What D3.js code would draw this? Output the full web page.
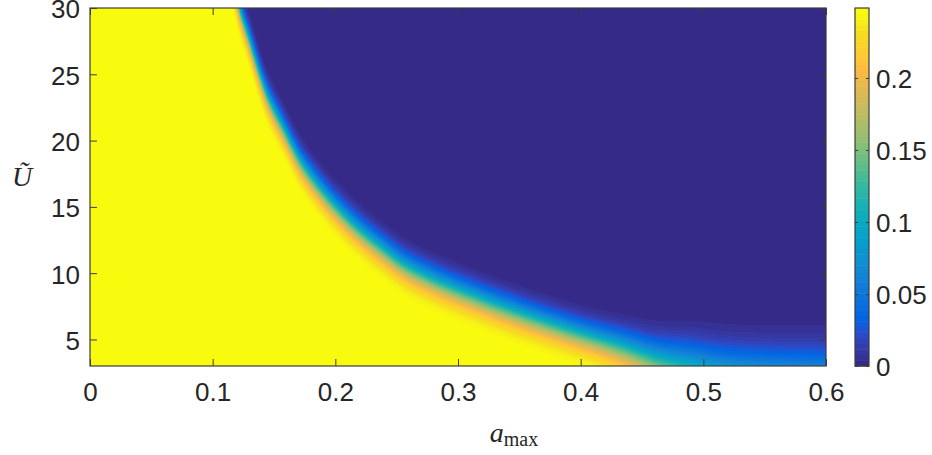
<!DOCTYPE html>
<html>
<head>
<meta charset="utf-8">
<script src="https://cdn.jsdelivr.net/npm/d3@7"></script>
<style>
  body { margin: 0; background: #fff; }
  svg { display: block; }
</style>
</head>
<body>
<div id="chart"></div>
<script>
// transition curve: a_max -> U where the value is half of the max
const boundaryA = [0.09, 0.1215, 0.1288, 0.1443, 0.1565, 0.1736, 0.2095, 0.2380, 0.2608, 0.3196, 0.3856, 0.432, 0.469, 0.53, 0.60];
const boundaryU = [45, 30.0, 27.8, 23.3, 21.0, 18.0, 14.0, 11.75, 10.25, 7.9, 5.75, 4.4, 3.2, 2.0, 1.56];
// how wide the band is (in U units) along a_max
const bandA = [0.09, 0.25, 0.40, 0.45, 0.50, 0.60];
const bandSigma = [0.95, 1.0, 1.05, 1.3, 1.8, 2.1];
const vMax = 0.2486;      // value of the yellow region (top of colorbar)

const xTicks = [0, 0.1, 0.2, 0.3, 0.4, 0.5, 0.6];
const yTicks = [5, 10, 15, 20, 25, 30];
const cTicks = [0, 0.05, 0.1, 0.15, 0.2];
const xDomain = [0, 0.6];
const yDomain = [3, 30];

// parula stops (index in 64-colour map, colour)
const parulaIdx = [1, 3, 5, 7, 9, 12, 15, 19, 22, 26, 29, 33, 36, 40, 43, 47, 50, 53, 55, 57, 60, 64];
const parulaHex = ["#352a87", "#3637a0", "#3243ba", "#2053d4", "#0363e1", "#0871de", "#127dd8", "#108ed2",
  "#079ccf", "#07a9c2", "#15b1b4", "#38b99e", "#59bd8c", "#87bf77", "#a5be6b", "#c8bc5d", "#e1b952",
  "#f8ba44", "#ffc337", "#fcce2e", "#f5de21", "#f9fb0e"];

const W = 932, H = 455;
const plot = { left: 90, right: 826, top: 8, bottom: 366 };
const cbar = { left: 855, right: 869 };
const font = "'Liberation Sans', Arial, Helvetica, sans-serif";
const serif = "'Liberation Serif', 'Times New Roman', serif";
const axisColor = "#3c3c3c";
const textColor = "#262626";

const x = d3.scaleLinear().domain(xDomain).range([plot.left, plot.right]);
const y = d3.scaleLinear().domain(yDomain).range([plot.bottom, plot.top]);

// smooth (monotone cubic) curve through read points
function monotone(xs, ys) {
  const n = xs.length, d = [], m = [];
  for (let i = 0; i < n - 1; i++) d[i] = (ys[i + 1] - ys[i]) / (xs[i + 1] - xs[i]);
  m[0] = d[0]; m[n - 1] = d[n - 2];
  for (let i = 1; i < n - 1; i++) m[i] = d[i - 1] * d[i] <= 0 ? 0 : 2 / (1 / d[i - 1] + 1 / d[i]);
  return t => {
    if (t <= xs[0]) return ys[0] + m[0] * (t - xs[0]);
    if (t >= xs[n - 1]) return ys[n - 1] + m[n - 1] * (t - xs[n - 1]);
    const i = Math.min(n - 2, d3.bisectRight(xs, t) - 1);
    const h = xs[i + 1] - xs[i], s = (t - xs[i]) / h;
    const s2 = s * s, s3 = s2 * s;
    return (2 * s3 - 3 * s2 + 1) * ys[i] + (s3 - 2 * s2 + s) * h * m[i]
      + (-2 * s3 + 3 * s2) * ys[i + 1] + (s3 - s2) * h * m[i + 1];
  };
}
const uBoundary = monotone(boundaryA, boundaryU);
const sigma = monotone(bandA, bandSigma);

// erfc (Abramowitz & Stegun 7.1.26)
function erfc(z) {
  const t = 1 / (1 + 0.3275911 * Math.abs(z));
  const e = t * (0.254829592 + t * (-0.284496736 + t * (1.421413741 + t * (-1.453152027 + t * 1.061405429))))
    * Math.exp(-z * z);
  return z >= 0 ? e : 2 - e;
}

const cont = d3.scaleLinear().domain(parulaIdx.map(i => (i - 1) / 63)).range(parulaHex)
  .interpolate(d3.interpolateRgb);
const levels = d3.range(64).map(k => d3.rgb(cont(k / 63)));
const color = v => levels[Math.max(0, Math.min(63, Math.floor(v / vMax * 64)))];

const svg = d3.select("#chart").append("svg")
  .attr("width", W).attr("height", H)
  .style("background", "#fff");

// heatmap drawn pixel by pixel on a canvas, then placed in the svg
const pw = plot.right - plot.left, ph = plot.bottom - plot.top;
const canvas = document.createElement("canvas");
canvas.width = pw; canvas.height = ph;
const ctx = canvas.getContext("2d");
const img = ctx.createImageData(pw, ph);
for (let i = 0; i < pw; i++) {
  const a = x.invert(plot.left + i + 0.5);
  const ub = uBoundary(a), sg = sigma(a);
  for (let j = 0; j < ph; j++) {
    const U = y.invert(plot.top + j + 0.5);
    const c = color(vMax * 0.5 * erfc((U - ub) / (sg * Math.SQRT2)));
    const k = (j * pw + i) * 4;
    img.data[k] = c.r; img.data[k + 1] = c.g; img.data[k + 2] = c.b; img.data[k + 3] = 255;
  }
}
ctx.putImageData(img, 0, 0);
svg.append("image")
  .attr("x", plot.left).attr("y", plot.top)
  .attr("width", pw).attr("height", ph)
  .attr("preserveAspectRatio", "none")
  .attr("href", canvas.toDataURL());

// axes, ticks pointing inward on all four sides
const styleAxis = g => {
  g.select(".domain").remove();
  g.selectAll(".tick line").attr("stroke", axisColor);
  g.selectAll("text").attr("fill", textColor).style("font-family", font).style("font-size", "26px");
};

svg.append("g")
  .attr("transform", `translate(0, ${plot.bottom})`)
  .call(d3.axisBottom(x).tickValues(xTicks).tickSize(-7).tickPadding(17).tickFormat(d3.format("")))
  .call(styleAxis);
svg.append("g")
  .attr("transform", `translate(0, ${plot.top})`)
  .call(d3.axisTop(x).tickValues(xTicks).tickSize(-7).tickFormat(""))
  .call(styleAxis);
svg.append("g")
  .attr("transform", `translate(${plot.left}, 0)`)
  .call(d3.axisLeft(y).tickValues(yTicks).tickSize(-7).tickPadding(10))
  .call(styleAxis)
  .call(g => g.selectAll("text").attr("dy", "0.38em"));
svg.append("g")
  .attr("transform", `translate(${plot.right}, 0)`)
  .call(d3.axisRight(y).tickValues(yTicks).tickSize(-7).tickFormat(""))
  .call(styleAxis);

svg.append("rect")
  .attr("x", plot.left).attr("y", plot.top)
  .attr("width", pw).attr("height", ph)
  .attr("fill", "none").attr("stroke", axisColor).attr("stroke-width", 1.2);

// colorbar
const yc = d3.scaleLinear().domain([0, vMax]).range([plot.bottom, plot.top]);
svg.append("g").selectAll("rect")
  .data(levels)
  .join("rect")
  .attr("x", cbar.left)
  .attr("width", cbar.right - cbar.left)
  .attr("y", (d, k) => yc((k + 1) * vMax / 64))
  .attr("height", (d, k) => yc(k * vMax / 64) - yc((k + 1) * vMax / 64) + 0.5)
  .attr("fill", d => d);

svg.append("g")
  .attr("transform", `translate(${cbar.right}, 0)`)
  .call(d3.axisRight(yc).tickValues(cTicks).tickSize(-3).tickPadding(7).tickFormat(d3.format("")))
  .call(styleAxis)
  .call(g => g.selectAll("text").attr("dy", "0.38em"));
svg.append("g")
  .attr("transform", `translate(${cbar.left}, 0)`)
  .call(d3.axisLeft(yc).tickValues(cTicks).tickSize(-3).tickFormat(""))
  .call(styleAxis);
svg.append("rect")
  .attr("x", cbar.left).attr("y", plot.top)
  .attr("width", cbar.right - cbar.left).attr("height", ph)
  .attr("fill", "none").attr("stroke", axisColor).attr("stroke-width", 1.2);

// axis labels
const xl = svg.append("text")
  .attr("x", 514).attr("y", 442)
  .attr("text-anchor", "middle")
  .attr("fill", textColor)
  .style("font-family", serif).style("font-size", "28px");
xl.append("tspan").style("font-style", "italic").text("a");
xl.append("tspan").attr("dy", 4).style("font-size", "20px").text("max");

svg.append("text")
  .attr("x", 22).attr("y", 186)
  .attr("text-anchor", "middle")
  .attr("fill", textColor)
  .style("font-family", serif).style("font-size", "28px").style("font-style", "italic")
  .text("Ũ");
</script>
</body>
</html>
